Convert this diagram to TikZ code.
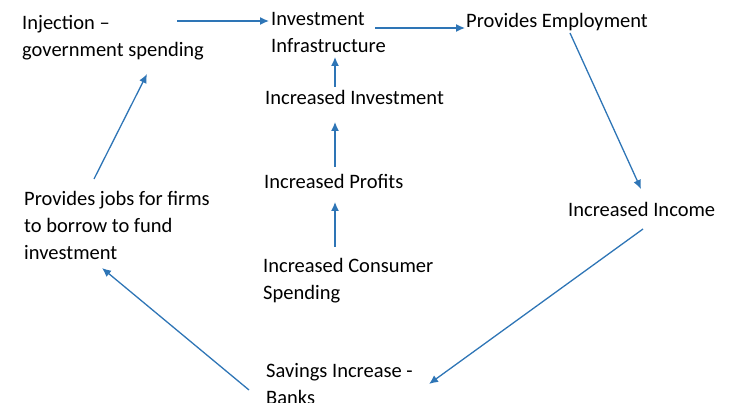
\documentclass[tikz,border=0pt]{standalone}
\usepackage{fontspec}
\setmainfont{Carlito}
\usetikzlibrary{arrows.meta}

\definecolor{flowblue}{HTML}{2E75B6}

\tikzset{
    stage/.style={anchor=base west, inner sep=0pt, align=left,
        font=\fontsize{20.5}{27}\selectfont},
    flow/.style={draw=flowblue, line width=1.3pt,
        -{Latex[length=9pt,width=8pt]}}
}

\begin{document}
\begin{tikzpicture}[x=1pt,y=-1pt]
    \useasboundingbox (0,0) rectangle (734,419);
    % the source image is cut just under the last line
    \clip (0,0) rectangle (734,403);

    % stages of the cycle (base = last line)
    \node[stage] (inj) at (22,57) {Injection --\\government spending};
    \node[stage] (infra) at (271,53) {Investment\\Infrastructure};
    \node[stage] (employ) at (466,28) {Provides Employment};
    \node[stage] (income) at (568,217) {Increased Income};
    \node[stage] (savings) at (266,405) {Savings Increase -\\Banks};
    \node[stage] (jobs) at (24,260) {Provides jobs for firms\\to borrow to fund\\investment};

    % middle column
    \node[stage] (invest) at (265,105) {Increased Investment};
    \node[stage] (profits) at (264,189) {Increased Profits};
    \node[stage] (consumer) at (263,300) {Increased Consumer\\Spending};

    % arrow ends
    \coordinate (injOut) at (177,21);
    \coordinate (infraIn) at (269,21);
    \coordinate (infraOut) at (375,28);
    \coordinate (employIn) at (465,28);
    \coordinate (employOut) at (570,33);
    \coordinate (incomeIn) at (641,189);
    \coordinate (incomeOut) at (643,229);
    \coordinate (savingsIn) at (429,384);
    \coordinate (savingsOut) at (249,390);
    \coordinate (jobsIn) at (102,268);
    \coordinate (jobsOut) at (94,179);
    \coordinate (injIn) at (147,74);
    \coordinate (consumerOut) at (335,247);
    \coordinate (profitsIn) at (335,202);
    \coordinate (profitsOut) at (335,167);
    \coordinate (investIn) at (335,122);
    \coordinate (investOut) at (335,87);
    \coordinate (infraUp) at (335,57);

    % the loop
    \draw[flow] (injOut) -- (infraIn);
    \draw[flow] (infraOut) -- (employIn);
    \draw[flow] (employOut) -- (incomeIn);
    \draw[flow] (incomeOut) -- (savingsIn);
    \draw[flow] (savingsOut) -- (jobsIn);
    \draw[flow] (jobsOut) -- (injIn);

    % up the middle column
    \foreach \a/\b in {consumerOut/profitsIn, profitsOut/investIn, investOut/infraUp}
        \draw[flow] (\a) -- (\b);
\end{tikzpicture}
\end{document}
